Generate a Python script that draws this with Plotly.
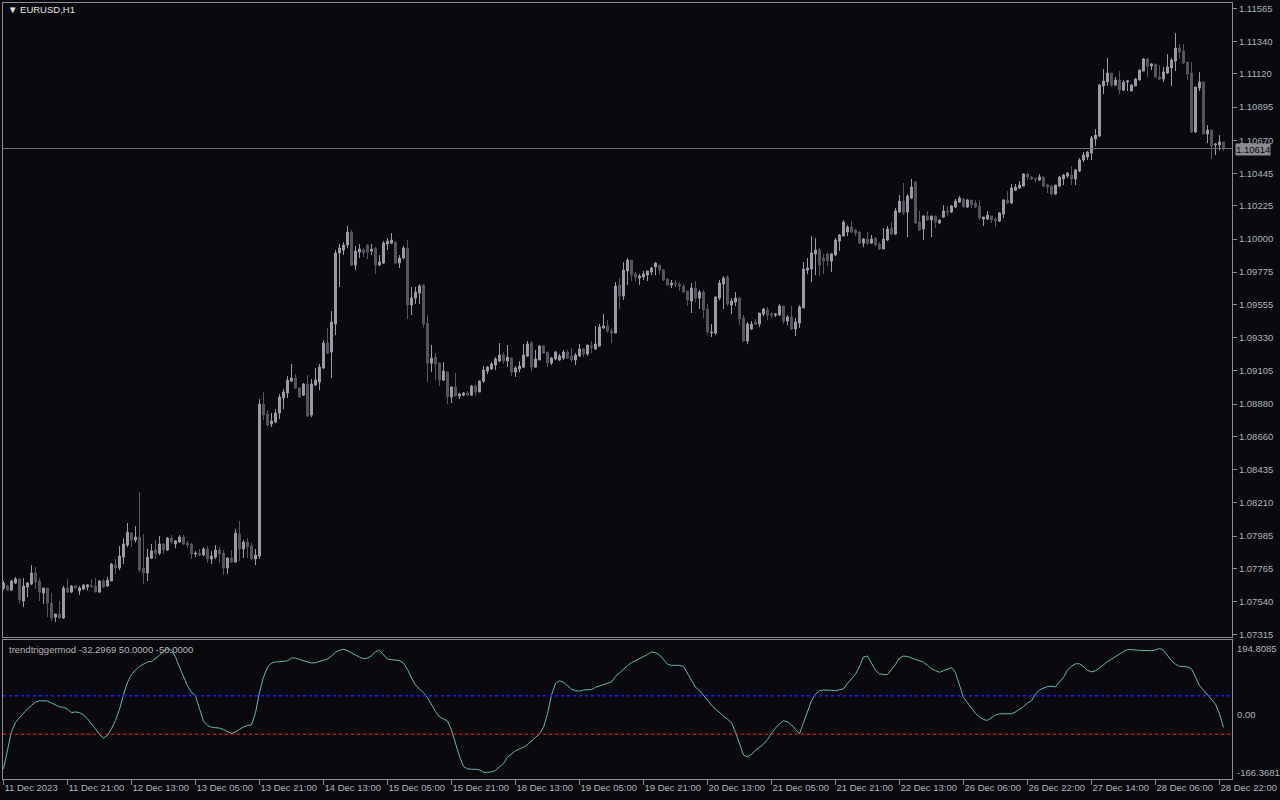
import plotly.graph_objects as go

# ---------------- data (EURUSD H1) ----------------
time_labels = ["11 Dec 2023", "11 Dec 21:00", "12 Dec 13:00", "13 Dec 05:00", "13 Dec 21:00",
               "14 Dec 13:00", "15 Dec 05:00", "15 Dec 21:00", "18 Dec 13:00", "19 Dec 05:00",
               "19 Dec 21:00", "20 Dec 13:00", "21 Dec 05:00", "21 Dec 21:00", "22 Dec 13:00",
               "26 Dec 06:00", "26 Dec 22:00", "27 Dec 14:00", "28 Dec 06:00", "28 Dec 22:00"]
time_label_bars = [0, 16, 32, 48, 64, 80, 96, 112, 128, 144, 160, 176, 192, 208, 224, 240, 256, 272, 288, 304]

price_labels = ["1.07315", "1.07540", "1.07765", "1.07985", "1.08210", "1.08435", "1.08660",
                "1.08880", "1.09105", "1.09330", "1.09555", "1.09775", "1.10000", "1.10225",
                "1.10445", "1.10670", "1.10895", "1.11120", "1.11340", "1.11565"]

open_ = [
    1.07632, 1.07646, 1.07618, 1.07666, 1.07693, 1.07544, 1.07639, 1.07659, 1.07734, 1.07680,
    1.07598, 1.07632, 1.07530, 1.07435, 1.07456, 1.07429, 1.07632, 1.07605, 1.07646, 1.07612,
    1.07625, 1.07639, 1.07646, 1.07646, 1.07605, 1.07680, 1.07646, 1.07680, 1.07788, 1.07768,
    1.07842, 1.07924, 1.08005, 1.07958, 1.07978, 1.07768, 1.07734, 1.07836, 1.07890, 1.07869,
    1.07931, 1.07890, 1.07971, 1.07931, 1.07944, 1.07978, 1.07937, 1.07931, 1.07863, 1.07869,
    1.07856, 1.07897, 1.07829, 1.07842, 1.07890, 1.07869, 1.07768, 1.07836, 1.07808, 1.07998,
    1.07897, 1.07944, 1.07917, 1.07829, 1.07849, 1.08880, 1.08813, 1.08745, 1.08758, 1.08819,
    1.08921, 1.08955, 1.09036, 1.09057, 1.08989, 1.08941, 1.09016, 1.08806, 1.09009, 1.09030,
    1.09125, 1.09294, 1.09233, 1.09423, 1.09905, 1.09925, 1.09959, 1.10047, 1.09823, 1.09911,
    1.09925, 1.09959, 1.09918, 1.09939, 1.09823, 1.09837, 1.09966, 1.09972, 1.09979, 1.09837,
    1.09871, 1.09939, 1.09552, 1.09599, 1.09633, 1.09688, 1.09430, 1.09158, 1.09199, 1.09158,
    1.09043, 1.09097, 1.08928, 1.08996, 1.08935, 1.08941, 1.08955, 1.08941, 1.09002, 1.08962,
    1.09036, 1.09104, 1.09118, 1.09145, 1.09172, 1.09213, 1.09172, 1.09192, 1.09097, 1.09118,
    1.09131, 1.09206, 1.09294, 1.09131, 1.09179, 1.09274, 1.09233, 1.09158, 1.09186, 1.09179,
    1.09192, 1.09233, 1.09206, 1.09179, 1.09206, 1.09254, 1.09220, 1.09274, 1.09254, 1.09274,
    1.09396, 1.09410, 1.09376, 1.09362, 1.09688, 1.09613, 1.09783, 1.09857, 1.09762, 1.09735,
    1.09742, 1.09755, 1.09776, 1.09810, 1.09823, 1.09789, 1.09728, 1.09688, 1.09701, 1.09694,
    1.09681, 1.09647, 1.09579, 1.09667, 1.09599, 1.09640, 1.09525, 1.09362, 1.09362, 1.09599,
    1.09694, 1.09742, 1.09552, 1.09572, 1.09599, 1.09464, 1.09308, 1.09389, 1.09437, 1.09423,
    1.09491, 1.09518, 1.09491, 1.09484, 1.09484, 1.09545, 1.09443, 1.09471, 1.09389, 1.09430,
    1.09532, 1.09789, 1.09796, 1.09898, 1.09925, 1.09871, 1.09898, 1.09850, 1.09891, 1.09986,
    1.10020, 1.10047, 1.10081, 1.10061, 1.10047, 1.09972, 1.10000, 1.09972, 1.10006, 1.09966,
    1.09932, 1.09993, 1.10074, 1.10034, 1.10183, 1.10257, 1.10183, 1.10278, 1.10386, 1.10115,
    1.10068, 1.10156, 1.10129, 1.10156, 1.10108, 1.10149, 1.10190, 1.10183, 1.10217, 1.10251,
    1.10271, 1.10217, 1.10264, 1.10244, 1.10224, 1.10135, 1.10135, 1.10156, 1.10135, 1.10122,
    1.10169, 1.10264, 1.10244, 1.10332, 1.10346, 1.10359, 1.10441, 1.10420, 1.10413, 1.10400,
    1.10420, 1.10366, 1.10359, 1.10305, 1.10359, 1.10407, 1.10427, 1.10434, 1.10407, 1.10461,
    1.10536, 1.10556, 1.10583, 1.10678, 1.10698, 1.11038, 1.11065, 1.11126, 1.11044, 1.11078,
    1.11010, 1.11065, 1.11004, 1.11038, 1.11078, 1.11139, 1.11221, 1.11173, 1.11187, 1.11099,
    1.11085, 1.11126, 1.11160, 1.11207, 1.11295, 1.11275, 1.11200, 1.11126, 1.10726, 1.11024,
    1.11065, 1.10712, 1.10739, 1.10638, 1.10638, 1.10658]

high = [
    1.07680, 1.07652, 1.07686, 1.07707, 1.07700, 1.07700, 1.07673, 1.07788, 1.07775, 1.07700,
    1.07632, 1.07632, 1.07598, 1.07456, 1.07544, 1.07646, 1.07693, 1.07652, 1.07652, 1.07646,
    1.07659, 1.07659, 1.07693, 1.07700, 1.07686, 1.07693, 1.07707, 1.07802, 1.07829, 1.07917,
    1.07971, 1.08073, 1.08012, 1.08053, 1.08283, 1.07998, 1.07897, 1.07931, 1.07958, 1.07985,
    1.07937, 1.07978, 1.07992, 1.07958, 1.07992, 1.07992, 1.07951, 1.07937, 1.07883, 1.07897,
    1.07910, 1.07917, 1.07883, 1.07924, 1.07910, 1.07890, 1.07842, 1.07890, 1.08032, 1.08087,
    1.07958, 1.07971, 1.07937, 1.07897, 1.08914, 1.08962, 1.08840, 1.08819, 1.08846, 1.08948,
    1.08982, 1.09070, 1.09152, 1.09084, 1.08996, 1.09023, 1.09077, 1.09050, 1.09125, 1.09152,
    1.09314, 1.09396, 1.09511, 1.09925, 1.09966, 1.09979, 1.10088, 1.10061, 1.09952, 1.09966,
    1.09939, 1.09966, 1.09966, 1.09945, 1.09891, 1.09986, 1.10006, 1.10040, 1.09986, 1.09891,
    1.09952, 1.09993, 1.09674, 1.09674, 1.09694, 1.09694, 1.09484, 1.09281, 1.09226, 1.09165,
    1.09165, 1.09104, 1.09002, 1.09091, 1.08955, 1.08962, 1.08968, 1.09009, 1.09009, 1.09043,
    1.09138, 1.09138, 1.09165, 1.09199, 1.09294, 1.09233, 1.09281, 1.09199, 1.09138, 1.09172,
    1.09287, 1.09308, 1.09308, 1.09247, 1.09281, 1.09281, 1.09233, 1.09199, 1.09240, 1.09220,
    1.09247, 1.09247, 1.09260, 1.09226, 1.09287, 1.09260, 1.09281, 1.09308, 1.09410, 1.09423,
    1.09491, 1.09450, 1.09396, 1.09708, 1.09735, 1.09844, 1.09871, 1.09857, 1.09776, 1.09762,
    1.09783, 1.09783, 1.09810, 1.09844, 1.09823, 1.09796, 1.09735, 1.09722, 1.09722, 1.09708,
    1.09694, 1.09647, 1.09701, 1.09715, 1.09654, 1.09654, 1.09559, 1.09423, 1.09613, 1.09722,
    1.09749, 1.09755, 1.09599, 1.09640, 1.09606, 1.09484, 1.09437, 1.09443, 1.09457, 1.09498,
    1.09532, 1.09539, 1.09504, 1.09498, 1.09559, 1.09545, 1.09484, 1.09545, 1.09464, 1.09552,
    1.09844, 1.09871, 1.10020, 1.10006, 1.09939, 1.09898, 1.09905, 1.09905, 1.10006, 1.10034,
    1.10129, 1.10095, 1.10122, 1.10068, 1.10054, 1.10006, 1.10047, 1.10027, 1.10006, 1.09979,
    1.10074, 1.10088, 1.10115, 1.10210, 1.10298, 1.10380, 1.10305, 1.10407, 1.10393, 1.10190,
    1.10162, 1.10190, 1.10156, 1.10156, 1.10129, 1.10230, 1.10224, 1.10230, 1.10271, 1.10291,
    1.10278, 1.10271, 1.10264, 1.10264, 1.10264, 1.10149, 1.10190, 1.10156, 1.10149, 1.10183,
    1.10271, 1.10325, 1.10373, 1.10373, 1.10393, 1.10447, 1.10447, 1.10427, 1.10413, 1.10441,
    1.10420, 1.10373, 1.10366, 1.10366, 1.10427, 1.10441, 1.10454, 1.10495, 1.10475, 1.10549,
    1.10590, 1.10597, 1.10698, 1.10746, 1.11051, 1.11153, 1.11228, 1.11126, 1.11099, 1.11139,
    1.11078, 1.11078, 1.11051, 1.11092, 1.11153, 1.11228, 1.11228, 1.11194, 1.11187, 1.11180,
    1.11167, 1.11255, 1.11228, 1.11397, 1.11323, 1.11323, 1.11200, 1.11200, 1.11031, 1.11133,
    1.11065, 1.10773, 1.10739, 1.10651, 1.10705, 1.10658]

low = [
    1.07618, 1.07612, 1.07612, 1.07659, 1.07524, 1.07503, 1.07571, 1.07652, 1.07625, 1.07544,
    1.07524, 1.07435, 1.07408, 1.07401, 1.07422, 1.07422, 1.07598, 1.07598, 1.07625, 1.07585,
    1.07618, 1.07618, 1.07632, 1.07605, 1.07598, 1.07632, 1.07639, 1.07680, 1.07727, 1.07754,
    1.07795, 1.07910, 1.07910, 1.07944, 1.07741, 1.07659, 1.07680, 1.07829, 1.07829, 1.07856,
    1.07863, 1.07883, 1.07931, 1.07903, 1.07937, 1.07924, 1.07903, 1.07829, 1.07842, 1.07849,
    1.07849, 1.07802, 1.07795, 1.07829, 1.07802, 1.07720, 1.07727, 1.07802, 1.07808, 1.07815,
    1.07836, 1.07836, 1.07822, 1.07788, 1.07829, 1.08772, 1.08724, 1.08724, 1.08751, 1.08779,
    1.08846, 1.08921, 1.09030, 1.08982, 1.08921, 1.08935, 1.08792, 1.08792, 1.09002, 1.08975,
    1.09118, 1.09220, 1.09057, 1.09348, 1.09674, 1.09891, 1.09939, 1.09817, 1.09789, 1.09871,
    1.09878, 1.09864, 1.09891, 1.09762, 1.09817, 1.09830, 1.09925, 1.09966, 1.09830, 1.09803,
    1.09864, 1.09457, 1.09484, 1.09559, 1.09559, 1.09403, 1.09030, 1.09097, 1.09043, 1.09002,
    1.09036, 1.08880, 1.08887, 1.08935, 1.08914, 1.08935, 1.08935, 1.08935, 1.08935, 1.08962,
    1.09023, 1.09084, 1.09111, 1.09111, 1.09165, 1.09152, 1.09131, 1.09070, 1.09064, 1.09097,
    1.09125, 1.09199, 1.09104, 1.09125, 1.09179, 1.09220, 1.09131, 1.09145, 1.09179, 1.09172,
    1.09179, 1.09186, 1.09165, 1.09145, 1.09199, 1.09199, 1.09206, 1.09226, 1.09247, 1.09267,
    1.09389, 1.09362, 1.09294, 1.09362, 1.09525, 1.09586, 1.09688, 1.09715, 1.09715, 1.09688,
    1.09722, 1.09715, 1.09755, 1.09755, 1.09762, 1.09715, 1.09681, 1.09667, 1.09674, 1.09647,
    1.09633, 1.09545, 1.09498, 1.09572, 1.09525, 1.09464, 1.09348, 1.09335, 1.09348, 1.09586,
    1.09525, 1.09545, 1.09491, 1.09545, 1.09416, 1.09301, 1.09287, 1.09382, 1.09416, 1.09403,
    1.09477, 1.09450, 1.09464, 1.09471, 1.09477, 1.09423, 1.09416, 1.09382, 1.09342, 1.09396,
    1.09532, 1.09762, 1.09708, 1.09755, 1.09749, 1.09762, 1.09817, 1.09776, 1.09884, 1.09918,
    1.10020, 1.10020, 1.10040, 1.10020, 1.09966, 1.09945, 1.09959, 1.09966, 1.09952, 1.09925,
    1.09932, 1.09986, 1.10027, 1.10027, 1.10176, 1.10162, 1.10013, 1.10271, 1.10101, 1.10054,
    1.09993, 1.10122, 1.10013, 1.10074, 1.10101, 1.10142, 1.10156, 1.10176, 1.10210, 1.10244,
    1.10217, 1.10210, 1.10210, 1.10210, 1.10129, 1.10088, 1.10129, 1.10108, 1.10081, 1.10115,
    1.10142, 1.10237, 1.10237, 1.10325, 1.10339, 1.10359, 1.10400, 1.10400, 1.10386, 1.10393,
    1.10352, 1.10312, 1.10298, 1.10298, 1.10352, 1.10366, 1.10413, 1.10366, 1.10366, 1.10454,
    1.10522, 1.10536, 1.10536, 1.10631, 1.10692, 1.10983, 1.11038, 1.11031, 1.11038, 1.10983,
    1.11004, 1.11004, 1.11004, 1.11038, 1.11078, 1.11139, 1.11099, 1.11146, 1.11092, 1.11078,
    1.11065, 1.11119, 1.11038, 1.11139, 1.11221, 1.11187, 1.11078, 1.10719, 1.10719, 1.11004,
    1.10712, 1.10651, 1.10542, 1.10570, 1.10603, 1.10597]

close = [
    1.07666, 1.07618, 1.07680, 1.07693, 1.07551, 1.07646, 1.07666, 1.07734, 1.07673, 1.07605,
    1.07632, 1.07530, 1.07429, 1.07456, 1.07429, 1.07632, 1.07605, 1.07646, 1.07632, 1.07632,
    1.07652, 1.07652, 1.07644, 1.07605, 1.07680, 1.07639, 1.07686, 1.07795, 1.07768, 1.07849,
    1.07931, 1.08012, 1.07958, 1.07978, 1.07754, 1.07734, 1.07842, 1.07883, 1.07869, 1.07931,
    1.07890, 1.07971, 1.07944, 1.07951, 1.07978, 1.07931, 1.07924, 1.07863, 1.07869, 1.07856,
    1.07897, 1.07829, 1.07849, 1.07890, 1.07863, 1.07768, 1.07836, 1.07808, 1.08005, 1.07897,
    1.07944, 1.07910, 1.07829, 1.07856, 1.08880, 1.08806, 1.08738, 1.08765, 1.08819, 1.08928,
    1.08962, 1.09043, 1.09057, 1.08989, 1.08928, 1.09016, 1.08799, 1.09016, 1.09043, 1.09131,
    1.09294, 1.09226, 1.09437, 1.09905, 1.09939, 1.09959, 1.10047, 1.09823, 1.09918, 1.09932,
    1.09905, 1.09911, 1.09932, 1.09823, 1.09844, 1.09972, 1.09986, 1.09993, 1.09837, 1.09871,
    1.09939, 1.09552, 1.09599, 1.09640, 1.09681, 1.09423, 1.09158, 1.09192, 1.09152, 1.09043,
    1.09104, 1.08928, 1.08996, 1.08935, 1.08948, 1.08955, 1.08941, 1.09002, 1.08962, 1.09036,
    1.09111, 1.09131, 1.09152, 1.09186, 1.09213, 1.09172, 1.09199, 1.09097, 1.09125, 1.09138,
    1.09213, 1.09287, 1.09131, 1.09186, 1.09274, 1.09226, 1.09158, 1.09192, 1.09233, 1.09206,
    1.09233, 1.09192, 1.09179, 1.09213, 1.09254, 1.09220, 1.09281, 1.09267, 1.09287, 1.09403,
    1.09410, 1.09376, 1.09362, 1.09681, 1.09613, 1.09789, 1.09857, 1.09755, 1.09742, 1.09749,
    1.09762, 1.09783, 1.09803, 1.09837, 1.09789, 1.09722, 1.09688, 1.09701, 1.09694, 1.09681,
    1.09640, 1.09586, 1.09667, 1.09599, 1.09640, 1.09518, 1.09369, 1.09369, 1.09606, 1.09701,
    1.09735, 1.09559, 1.09579, 1.09599, 1.09457, 1.09308, 1.09423, 1.09423, 1.09423, 1.09498,
    1.09525, 1.09484, 1.09484, 1.09491, 1.09545, 1.09443, 1.09471, 1.09389, 1.09437, 1.09539,
    1.09796, 1.09803, 1.09905, 1.09925, 1.09823, 1.09850, 1.09850, 1.09898, 1.09993, 1.10027,
    1.10115, 1.10081, 1.10047, 1.10040, 1.09972, 1.10000, 1.09972, 1.10000, 1.09959, 1.09932,
    1.10000, 1.10068, 1.10034, 1.10190, 1.10257, 1.10176, 1.10291, 1.10352, 1.10108, 1.10061,
    1.10156, 1.10129, 1.10156, 1.10115, 1.10129, 1.10190, 1.10183, 1.10224, 1.10257, 1.10278,
    1.10217, 1.10264, 1.10230, 1.10217, 1.10142, 1.10149, 1.10162, 1.10129, 1.10122, 1.10176,
    1.10264, 1.10244, 1.10346, 1.10352, 1.10366, 1.10441, 1.10420, 1.10407, 1.10407, 1.10420,
    1.10359, 1.10352, 1.10305, 1.10366, 1.10420, 1.10434, 1.10447, 1.10407, 1.10468, 1.10536,
    1.10570, 1.10590, 1.10685, 1.10705, 1.11044, 1.11072, 1.11126, 1.11044, 1.11078, 1.11010,
    1.11065, 1.11072, 1.11044, 1.11085, 1.11146, 1.11221, 1.11173, 1.11187, 1.11099, 1.11085,
    1.11133, 1.11167, 1.11214, 1.11295, 1.11268, 1.11194, 1.11119, 1.10726, 1.11031, 1.11065,
    1.10712, 1.10739, 1.10631, 1.10644, 1.10658, 1.10614]

trend_trigger = [
    -140, -93, -43, -19, -7, 4, 16, 25, 33, 37,
    37, 36, 31, 25, 21, 20, 15, 6, 8, 6,
    0, -10, -22, -36, -51, -60, -53, -36, -14, 15,
    52, 85, 105, 117, 126, 132, 138, 139, 146, 155,
    166, 172, 168, 151, 124, 100, 76, 59, 50, 16,
    -16, -27, -32, -33, -34, -38, -43, -48, -44, -37,
    -31, -27, -26, 6, 59, 98, 124, 135, 138, 138,
    139, 141, 148, 148, 144, 141, 138, 135, 136, 139,
    141, 145, 153, 163, 168, 171, 167, 161, 154, 150,
    146, 148, 154, 164, 168, 155, 145, 144, 143, 141,
    135, 118, 96, 78, 67, 58, 45, 27, 9, -5,
    -10, -16, -39, -77, -108, -134, -140, -141, -141, -143,
    -149, -149, -148, -144, -136, -126, -110, -101, -93, -88,
    -84, -77, -68, -58, -49, -32, 3, 52, 82, 89,
    85, 76, 67, 63, 62, 65, 66, 66, 72, 76,
    80, 82, 86, 100, 110, 120, 128, 136, 141, 146,
    152, 157, 164, 162, 156, 144, 132, 129, 129, 129,
    126, 107, 89, 72, 63, 52, 39, 25, 15, 6,
    -3, -11, -20, -45, -73, -104, -109, -102, -92, -83,
    -76, -64, -47, -34, -23, -15, -18, -26, -38, -49,
    -20, 9, 37, 54, 63, 65, 65, 64, 63, 65,
    68, 82, 95, 106, 126, 151, 153, 135, 116, 107,
    105, 105, 118, 131, 148, 153, 152, 147, 144, 141,
    137, 129, 120, 115, 111, 115, 119, 123, 110, 76,
    45, 32, 17, 4, -5, -12, -14, -7, 0, 3,
    3, 3, 3, 8, 14, 22, 31, 37, 54, 65,
    70, 74, 75, 73, 86, 98, 116, 127, 133, 133,
    126, 116, 112, 115, 122, 131, 139, 145, 152, 159,
    165, 170, 170, 169, 168, 168, 167, 167, 169, 173,
    168, 155, 141, 132, 126, 126, 125, 120, 96, 76,
    65, 52, 38, 28, 3, -32.2969]

level_up = 50.0
level_down = -50.0
ind_max = 194.8085
ind_min = -166.3681
last_price = 1.10614
symbol = "EURUSD,H1"
indicator_name = "trendtriggermod"

# ---------------- styling ----------------
BG = "#0a0a0e"
FRAME = "#8c8c8c"
TXT = "#aab3bd"
BULL = "#9c9ca8"
BEAR = "#56565e"
FONT = "Liberation Sans, Arial, sans-serif"
FS = 9.5

W, H = 1280, 800
ML, MR, MT, MB = 3, 48, 3, 21
plot_h = H - MT - MB  # 776
main_bottom_px = 637
ind_top_px = 640


def py(px_from_top):
    return (H - MB - px_from_top) / plot_h


def px_x(px):
    return (px - ML) / (W - ML - MR)


bars = list(range(len(close)))
hi = [max(h, o, c) for h, o, c in zip(high, open_, close)]
lo = [min(l, o, c) for l, o, c in zip(low, open_, close)]

fig = go.Figure()
fig.add_trace(go.Candlestick(
    x=bars, open=open_, high=hi, low=lo, close=close,
    increasing=dict(line=dict(color=BULL, width=1), fillcolor=BULL),
    decreasing=dict(line=dict(color=BEAR, width=1), fillcolor=BEAR),
    whiskerwidth=0, xaxis="x", yaxis="y", hoverinfo="skip", showlegend=False))

fig.add_trace(go.Scatter(
    x=bars, y=trend_trigger, mode="lines",
    line=dict(color="#63b7b7", width=1), xaxis="x2", yaxis="y2",
    hoverinfo="skip", showlegend=False))

xr = [-0.125, len(close) + 1.125]
axis_common = dict(showgrid=False, zeroline=False, showline=True, mirror=True,
                   linecolor=FRAME, linewidth=1, automargin=False)

fig.update_layout(
    width=W, height=H, paper_bgcolor=BG, plot_bgcolor=BG,
    margin=dict(l=ML, r=MR, t=MT, b=MB, autoexpand=False),
    font=dict(family=FONT, size=FS, color=TXT),
    showlegend=False,
    xaxis=dict(domain=[0, 1], range=xr, anchor="y", showticklabels=False, ticks="",
               rangeslider=dict(visible=False), **axis_common),
    yaxis=dict(domain=[py(main_bottom_px), 1], range=[1.07300, 1.11601], side="right",
               anchor="x", tickvals=[float(s) for s in price_labels], ticktext=price_labels,
               ticks="outside", ticklen=4, tickcolor=FRAME, tickfont=dict(size=FS, color=TXT),
               **axis_common),
    xaxis2=dict(domain=[0, 1], range=xr, anchor="y2", tickvals=time_label_bars,
                ticktext=time_labels, ticks="outside", ticklen=5, tickcolor=FRAME,
                tickangle=0, ticklabelposition="outside right",
                tickfont=dict(size=FS, color=TXT), **axis_common),
    yaxis2=dict(domain=[0, py(ind_top_px)], range=[ind_min, ind_max], side="right",
                anchor="x2", showticklabels=False, ticks="", **axis_common),
)

# current price line + label
fig.add_shape(type="line", xref="x domain", yref="y", x0=0, x1=1, y0=last_price, y1=last_price,
              line=dict(color="#6e6e6e", width=1))
fig.add_annotation(xref="paper", yref="y", x=1, y=last_price, xanchor="left", yanchor="middle",
                   xshift=3, yshift=-1, text=f"{last_price:.5f}", showarrow=False,
                   bgcolor="#8a8a92", borderpad=0,
                   font=dict(family=FONT, size=FS, color="#0a0a0e"))

# indicator levels
for lvl, col, lw in ((level_up, "#1a1aff", 1.6), (level_down, "#ff2020", 1)):
    fig.add_shape(type="line", xref="x2 domain", yref="y2", x0=0, x1=1, y0=lvl, y1=lvl,
                  line=dict(color=col, width=lw, dash="3px,3px"))

# indicator axis labels
for val, ypx in ((ind_max, 648), (0.0, None), (ind_min, 772)):
    txt = "0.00" if val == 0 else f"{val:.4f}"
    if ypx is None:
        fig.add_annotation(xref="paper", yref="y2", x=1, y=val, xanchor="left", yanchor="middle",
                           xshift=3, text=txt, showarrow=False, font=dict(size=FS, color=TXT))
    else:
        fig.add_annotation(xref="paper", yref="paper", x=1, y=py(ypx), xanchor="left",
                           yanchor="middle", xshift=3, text=txt, showarrow=False,
                           font=dict(size=FS, color=TXT))

# titles
fig.add_annotation(xref="paper", yref="paper", x=px_x(6), y=py(10), xanchor="left",
                   yanchor="middle", text="\u25BC " + symbol, showarrow=False,
                   font=dict(family=FONT, size=FS, color="#e4e4e4"))
fig.add_annotation(xref="paper", yref="paper", x=px_x(7), y=py(649), xanchor="left",
                   yanchor="middle",
                   text=f"{indicator_name} {trend_trigger[-1]:.4f} {level_up:.4f} {level_down:.4f}",
                   showarrow=False, font=dict(family=FONT, size=FS, color="#b4b4b4"))

# remove the browser's default 8px page margin so the figure sits at the window origin
fig.write_html("out.html", config={"displayModeBar": False, "staticPlot": True},
               post_script="document.body.style.margin='0px';")
